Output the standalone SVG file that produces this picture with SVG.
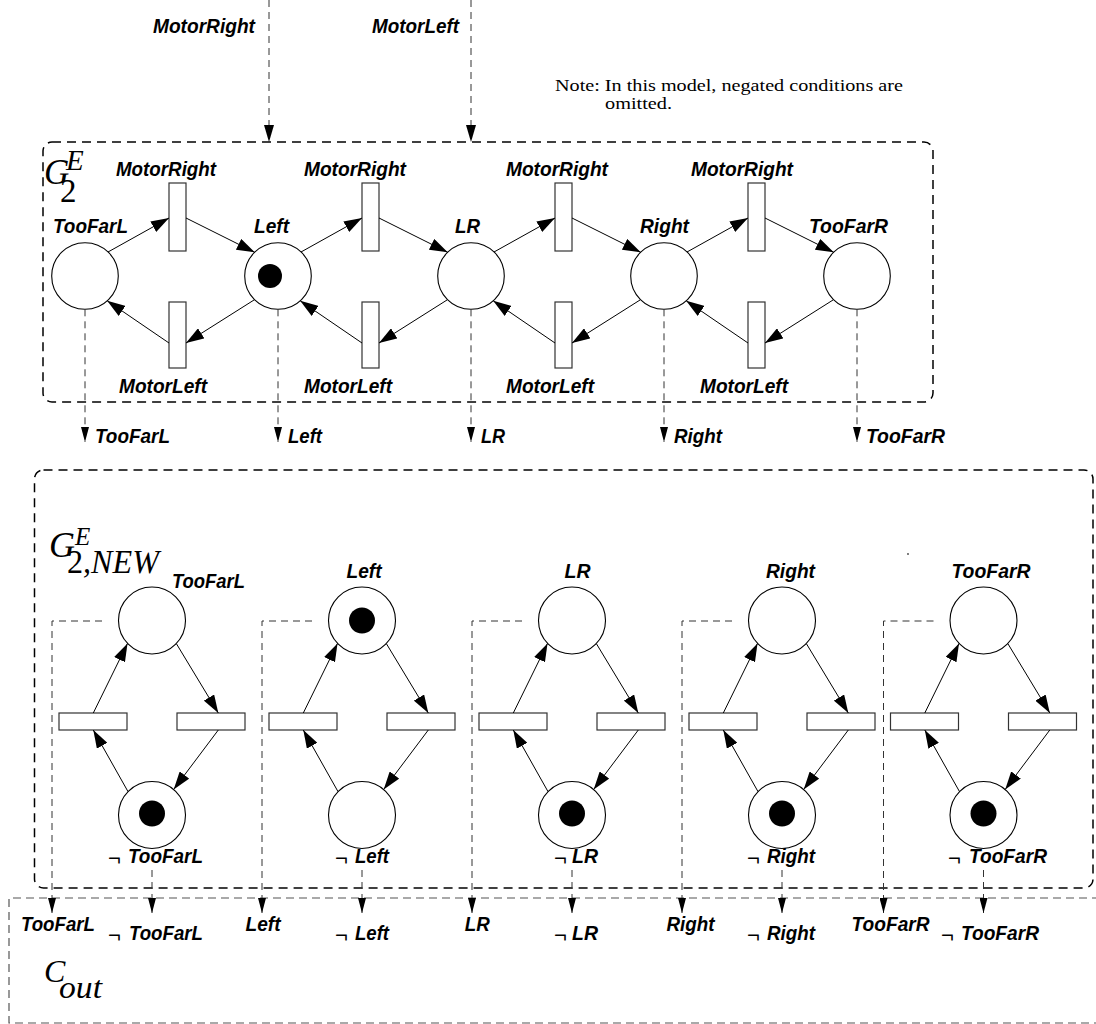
<svg xmlns="http://www.w3.org/2000/svg" width="1096" height="1024" viewBox="0 0 1096 1024">
  <defs>
    <marker id="ah" viewBox="0 0 18 12" refX="18" refY="6" markerWidth="18" markerHeight="12" markerUnits="userSpaceOnUse" orient="auto">
      <path d="M0,0 L18,6 L0,12 z" fill="#000" stroke="none"/>
    </marker>
    <marker id="ahd" viewBox="0 0 15 8" refX="15" refY="4" markerWidth="15" markerHeight="8" markerUnits="userSpaceOnUse" orient="auto">
      <path d="M0,0 L15,4 L0,8 z" fill="#000" stroke="none"/>
    </marker>
    <marker id="ahi" viewBox="0 0 17 10" refX="17" refY="5" markerWidth="17" markerHeight="10" markerUnits="userSpaceOnUse" orient="auto">
      <path d="M0,0 L17,5 L0,10 z" fill="#000" stroke="none"/>
    </marker>
  </defs>
  <style>
    .lbl { font-family: "Liberation Sans", Arial, sans-serif; font-weight: bold; font-style: italic; font-size: 21px; fill: #000; }
    .neg { font-family: "Liberation Sans", Arial, sans-serif; font-size: 22px; fill: #000; }
    .math { font-family: "Liberation Serif", "Times New Roman", serif; font-style: italic; fill: #000; }
    .note { font-family: "Liberation Serif", "Times New Roman", serif; font-size: 16px; fill: #000; }
    .place { fill: #fff; stroke: #000; stroke-width: 1.1; }
    .token { fill: #000; }
    .trans { fill: #fff; stroke: #333; stroke-width: 1.2; }
    .arc { fill: none; stroke: #000; stroke-width: 1; marker-end: url(#ah); }
    .box { fill: none; stroke: #000; stroke-width: 1.5; stroke-dasharray: 9 6; }
    .cbox { fill: none; stroke: #555; stroke-width: 1.2; stroke-dasharray: 8 5; }
    .sig { fill: none; stroke: #333; stroke-width: 1; stroke-dasharray: 7 5; marker-end: url(#ahd); }
    .sigin { fill: none; stroke: #333; stroke-width: 1; stroke-dasharray: 7 5; marker-end: url(#ahi); }
  </style>

  <rect width="1096" height="1024" fill="#fff"/>

  <!-- enclosing boxes -->
  <g id="box-g2e">
    <rect class="box" x="43" y="142" width="890" height="260" rx="9"/>
    <text class="math" font-size="35"><tspan x="44" y="184">G</tspan><tspan x="66" y="170" font-size="29">E</tspan><tspan x="60" y="202" font-size="33" font-style="normal">2</tspan></text>
  </g>
  <g id="box-g2new">
    <rect class="box" x="34.5" y="470" width="1058.5" height="418" rx="9"/>
    <text class="math" font-size="36"><tspan x="49" y="557">G</tspan><tspan x="75" y="545" font-size="25">E</tspan><tspan x="67" y="573" font-size="33" textLength="92" lengthAdjust="spacingAndGlyphs"><tspan font-style="normal">2</tspan>,NEW</tspan></text>
    <circle cx="908" cy="554" r="0.9" fill="#444"/>
  </g>
  <g id="box-cout">
    <path class="cbox" d="M1100,898 H9 V1023 H1100"/>
    <text class="math" font-size="32"><tspan x="44" y="982">C</tspan><tspan x="59" y="998" textLength="43" lengthAdjust="spacingAndGlyphs">out</tspan></text>
  </g>

  <!-- note -->
  <g id="note">
    <text class="note" x="555" y="91" textLength="348" lengthAdjust="spacingAndGlyphs">Note: In this model, negated conditions are</text>
    <text class="note" x="605" y="109" textLength="67" lengthAdjust="spacingAndGlyphs">omitted.</text>
  </g>

  <!-- input signals -->
  <g id="inputs">
    <text class="lbl" x="153" y="33" textLength="102" lengthAdjust="spacingAndGlyphs">MotorRight</text>
    <text class="lbl" x="372" y="33" textLength="87" lengthAdjust="spacingAndGlyphs">MotorLeft</text>
  </g>

  <!-- upper net: places -->
  <g id="p-toofarl"><circle class="place" cx="85" cy="276" r="33.3"/><text class="lbl" x="53" y="233" textLength="75" lengthAdjust="spacingAndGlyphs">TooFarL</text></g>
  <g id="p-left"><circle class="place" cx="278" cy="276" r="33.3"/><circle class="token" cx="270" cy="276" r="12"/><text class="lbl" x="254" y="233" textLength="35" lengthAdjust="spacingAndGlyphs">Left</text></g>
  <g id="p-lr"><circle class="place" cx="471" cy="276" r="33.3"/><text class="lbl" x="455" y="233" textLength="25" lengthAdjust="spacingAndGlyphs">LR</text></g>
  <g id="p-right"><circle class="place" cx="664" cy="276" r="33.3"/><text class="lbl" x="640" y="233" textLength="49" lengthAdjust="spacingAndGlyphs">Right</text></g>
  <g id="p-toofarr"><circle class="place" cx="857" cy="276" r="33.3"/><text class="lbl" x="809" y="233" textLength="79" lengthAdjust="spacingAndGlyphs">TooFarR</text></g>

  <!-- upper net: transitions -->
  <g id="t-mr1"><rect class="trans" x="169" y="183" width="17" height="68"/><text class="lbl" x="116" y="176" textLength="100" lengthAdjust="spacingAndGlyphs">MotorRight</text></g>
  <g id="t-mr2"><rect class="trans" x="362" y="183" width="17" height="68"/><text class="lbl" x="304" y="176" textLength="102" lengthAdjust="spacingAndGlyphs">MotorRight</text></g>
  <g id="t-mr3"><rect class="trans" x="555" y="183" width="17" height="68"/><text class="lbl" x="506" y="176" textLength="102" lengthAdjust="spacingAndGlyphs">MotorRight</text></g>
  <g id="t-mr4"><rect class="trans" x="748" y="183" width="17" height="68"/><text class="lbl" x="691" y="176" textLength="102" lengthAdjust="spacingAndGlyphs">MotorRight</text></g>
  <g id="t-ml1"><rect class="trans" x="169" y="302" width="17" height="66"/><text class="lbl" x="119" y="393" textLength="88" lengthAdjust="spacingAndGlyphs">MotorLeft</text></g>
  <g id="t-ml2"><rect class="trans" x="362" y="302" width="17" height="66"/><text class="lbl" x="304" y="393" textLength="88" lengthAdjust="spacingAndGlyphs">MotorLeft</text></g>
  <g id="t-ml3"><rect class="trans" x="555" y="302" width="17" height="66"/><text class="lbl" x="506" y="393" textLength="88" lengthAdjust="spacingAndGlyphs">MotorLeft</text></g>
  <g id="t-ml4"><rect class="trans" x="748" y="302" width="17" height="66"/><text class="lbl" x="700" y="393" textLength="88" lengthAdjust="spacingAndGlyphs">MotorLeft</text></g>

  <!-- lower net: places and transitions -->
  <g id="q-toofarl">
    <circle class="place" cx="152" cy="620.5" r="33.5"/>
    <text class="lbl" x="172" y="588" textLength="73" lengthAdjust="spacingAndGlyphs">TooFarL</text>
    <circle class="place" cx="152" cy="815" r="33.5"/><circle class="token" cx="152" cy="813.5" r="13"/>
    <text class="neg" x="108" y="866">¬</text><text class="lbl" x="128" y="863" textLength="75" lengthAdjust="spacingAndGlyphs">TooFarL</text>
    <rect class="trans" x="59" y="713" width="68" height="17"/>
    <rect class="trans" x="177" y="713" width="68" height="17"/>
  </g>
  <g id="q-left">
    <circle class="place" cx="362" cy="620.5" r="33.5"/><circle class="token" cx="362" cy="620.5" r="13"/>
    <text class="lbl" x="346.5" y="578" textLength="35" lengthAdjust="spacingAndGlyphs">Left</text>
    <circle class="place" cx="362" cy="815" r="33.5"/>
    <text class="neg" x="335" y="866">¬</text><text class="lbl" x="355" y="863" textLength="34" lengthAdjust="spacingAndGlyphs">Left</text>
    <rect class="trans" x="269" y="713" width="68" height="17"/>
    <rect class="trans" x="387" y="713" width="68" height="17"/>
  </g>
  <g id="q-lr">
    <circle class="place" cx="572" cy="620.5" r="33.5"/>
    <text class="lbl" x="564.6" y="578" textLength="26" lengthAdjust="spacingAndGlyphs">LR</text>
    <circle class="place" cx="572" cy="815" r="33.5"/><circle class="token" cx="572" cy="813.5" r="13"/>
    <text class="neg" x="554" y="866">¬</text><text class="lbl" x="572" y="863" textLength="26" lengthAdjust="spacingAndGlyphs">LR</text>
    <rect class="trans" x="479" y="713" width="68" height="17"/>
    <rect class="trans" x="597" y="713" width="68" height="17"/>
  </g>
  <g id="q-right">
    <circle class="place" cx="782" cy="620.5" r="33.5"/>
    <text class="lbl" x="766" y="578" textLength="49" lengthAdjust="spacingAndGlyphs">Right</text>
    <circle class="place" cx="782" cy="815" r="33.5"/><circle class="token" cx="782" cy="813.5" r="13"/>
    <text class="neg" x="747" y="866">¬</text><text class="lbl" x="767" y="863" textLength="48" lengthAdjust="spacingAndGlyphs">Right</text>
    <rect class="trans" x="689" y="713" width="68" height="17"/>
    <rect class="trans" x="807" y="713" width="68" height="17"/>
  </g>
  <g id="q-toofarr">
    <circle class="place" cx="983.5" cy="620.5" r="33.5"/>
    <text class="lbl" x="951.5" y="578" textLength="79" lengthAdjust="spacingAndGlyphs">TooFarR</text>
    <circle class="place" cx="983.5" cy="815" r="33.5"/><circle class="token" cx="983.5" cy="813.5" r="13"/>
    <text class="neg" x="948" y="866">¬</text><text class="lbl" x="969" y="863" textLength="78" lengthAdjust="spacingAndGlyphs">TooFarR</text>
    <rect class="trans" x="890.5" y="713" width="68" height="17"/>
    <rect class="trans" x="1008.5" y="713" width="68" height="17"/>
  </g>

  <!-- output condition labels -->
  <g id="out-labels">
    <text class="lbl" x="95" y="443" textLength="75" lengthAdjust="spacingAndGlyphs">TooFarL</text>
    <text class="lbl" x="288" y="443" textLength="34" lengthAdjust="spacingAndGlyphs">Left</text>
    <text class="lbl" x="481" y="443" textLength="24" lengthAdjust="spacingAndGlyphs">LR</text>
    <text class="lbl" x="674" y="443" textLength="48" lengthAdjust="spacingAndGlyphs">Right</text>
    <text class="lbl" x="866" y="443" textLength="79" lengthAdjust="spacingAndGlyphs">TooFarR</text>

    <text class="lbl" x="21" y="931" textLength="74" lengthAdjust="spacingAndGlyphs">TooFarL</text>
    <text class="lbl" x="245.5" y="931" textLength="35" lengthAdjust="spacingAndGlyphs">Left</text>
    <text class="lbl" x="464.7" y="931" textLength="25" lengthAdjust="spacingAndGlyphs">LR</text>
    <text class="lbl" x="666.5" y="931" textLength="48" lengthAdjust="spacingAndGlyphs">Right</text>
    <text class="lbl" x="851.6" y="931" textLength="78" lengthAdjust="spacingAndGlyphs">TooFarR</text>

    <text class="neg" x="108" y="943">¬</text><text class="lbl" x="129" y="940" textLength="74" lengthAdjust="spacingAndGlyphs">TooFarL</text>
    <text class="neg" x="335" y="943">¬</text><text class="lbl" x="355" y="940" textLength="34" lengthAdjust="spacingAndGlyphs">Left</text>
    <text class="neg" x="554" y="943">¬</text><text class="lbl" x="572" y="940" textLength="26" lengthAdjust="spacingAndGlyphs">LR</text>
    <text class="neg" x="747" y="943">¬</text><text class="lbl" x="767" y="940" textLength="48" lengthAdjust="spacingAndGlyphs">Right</text>
    <text class="neg" x="941" y="943">¬</text><text class="lbl" x="961" y="940" textLength="78" lengthAdjust="spacingAndGlyphs">TooFarR</text>
  </g>

  <!-- connectors -->
  <g id="connectors">
    <!-- inputs into the upper net -->
    <path class="sigin" d="M269,0 V142"/>
    <path class="sigin" d="M471,0 V142"/>

    <!-- upper net arcs -->
    <path class="arc" d="M108,252 L169,218"/>
    <path class="arc" d="M186,218 L254.7,252.3"/>
    <path class="arc" d="M254,300 L186,343"/>
    <path class="arc" d="M169,343 L107.2,300.8"/>

    <path class="arc" d="M301,252 L362,218"/>
    <path class="arc" d="M379,218 L447.7,252.3"/>
    <path class="arc" d="M447,300 L379,343"/>
    <path class="arc" d="M362,343 L300.2,300.8"/>

    <path class="arc" d="M494,252 L555,218"/>
    <path class="arc" d="M572,218 L640.7,252.3"/>
    <path class="arc" d="M640,300 L572,343"/>
    <path class="arc" d="M555,343 L493.2,300.8"/>

    <path class="arc" d="M687,252 L748,218"/>
    <path class="arc" d="M765,218 L833.7,252.3"/>
    <path class="arc" d="M833,300 L765,343"/>
    <path class="arc" d="M748,343 L686.2,300.8"/>

    <!-- upper net outputs -->
    <path class="sig" d="M85,309.3 V442"/>
    <path class="sig" d="M278,309.3 V442"/>
    <path class="sig" d="M471,309.3 V442"/>
    <path class="sig" d="M664,309.3 V442"/>
    <path class="sig" d="M857,309.3 V442"/>

    <!-- lower net arcs -->
    <path class="arc" d="M93.3,713 L127.5,643.4"/>
    <path class="arc" d="M176.4,643.7 L218.3,713"/>
    <path class="arc" d="M218.3,730 L173.7,789.4"/>
    <path class="arc" d="M128,791.6 L93.3,730"/>

    <path class="arc" d="M303.3,713 L337.5,643.4"/>
    <path class="arc" d="M386.4,643.7 L428.3,713"/>
    <path class="arc" d="M428.3,730 L383.7,789.4"/>
    <path class="arc" d="M338,791.6 L303.3,730"/>

    <path class="arc" d="M513.3,713 L547.5,643.4"/>
    <path class="arc" d="M596.4,643.7 L638.3,713"/>
    <path class="arc" d="M638.3,730 L593.7,789.4"/>
    <path class="arc" d="M548,791.6 L513.3,730"/>

    <path class="arc" d="M723.3,713 L757.5,643.4"/>
    <path class="arc" d="M806.4,643.7 L848.3,713"/>
    <path class="arc" d="M848.3,730 L803.7,789.4"/>
    <path class="arc" d="M758,791.6 L723.3,730"/>

    <path class="arc" d="M924.8,713 L959,643.4"/>
    <path class="arc" d="M1007.9,643.7 L1049.8,713"/>
    <path class="arc" d="M1049.8,730 L1005.2,789.4"/>
    <path class="arc" d="M959.5,791.6 L924.8,730"/>

    <!-- lower net outputs into C_out -->
    <path class="sig" d="M102,621 H52 V913"/>
    <path class="sig" d="M312,621 H262 V913"/>
    <path class="sig" d="M522,621 H472 V913"/>
    <path class="sig" d="M732,621 H682 V913"/>
    <path class="sig" d="M933.5,621 H883.5 V913"/>

    <path class="sig" d="M152,870 V913"/>
    <path class="sig" d="M362,870 V913"/>
    <path class="sig" d="M572,870 V913"/>
    <path class="sig" d="M782,870 V913"/>
    <path class="sig" d="M983.5,870 V913"/>
  </g>
</svg>
